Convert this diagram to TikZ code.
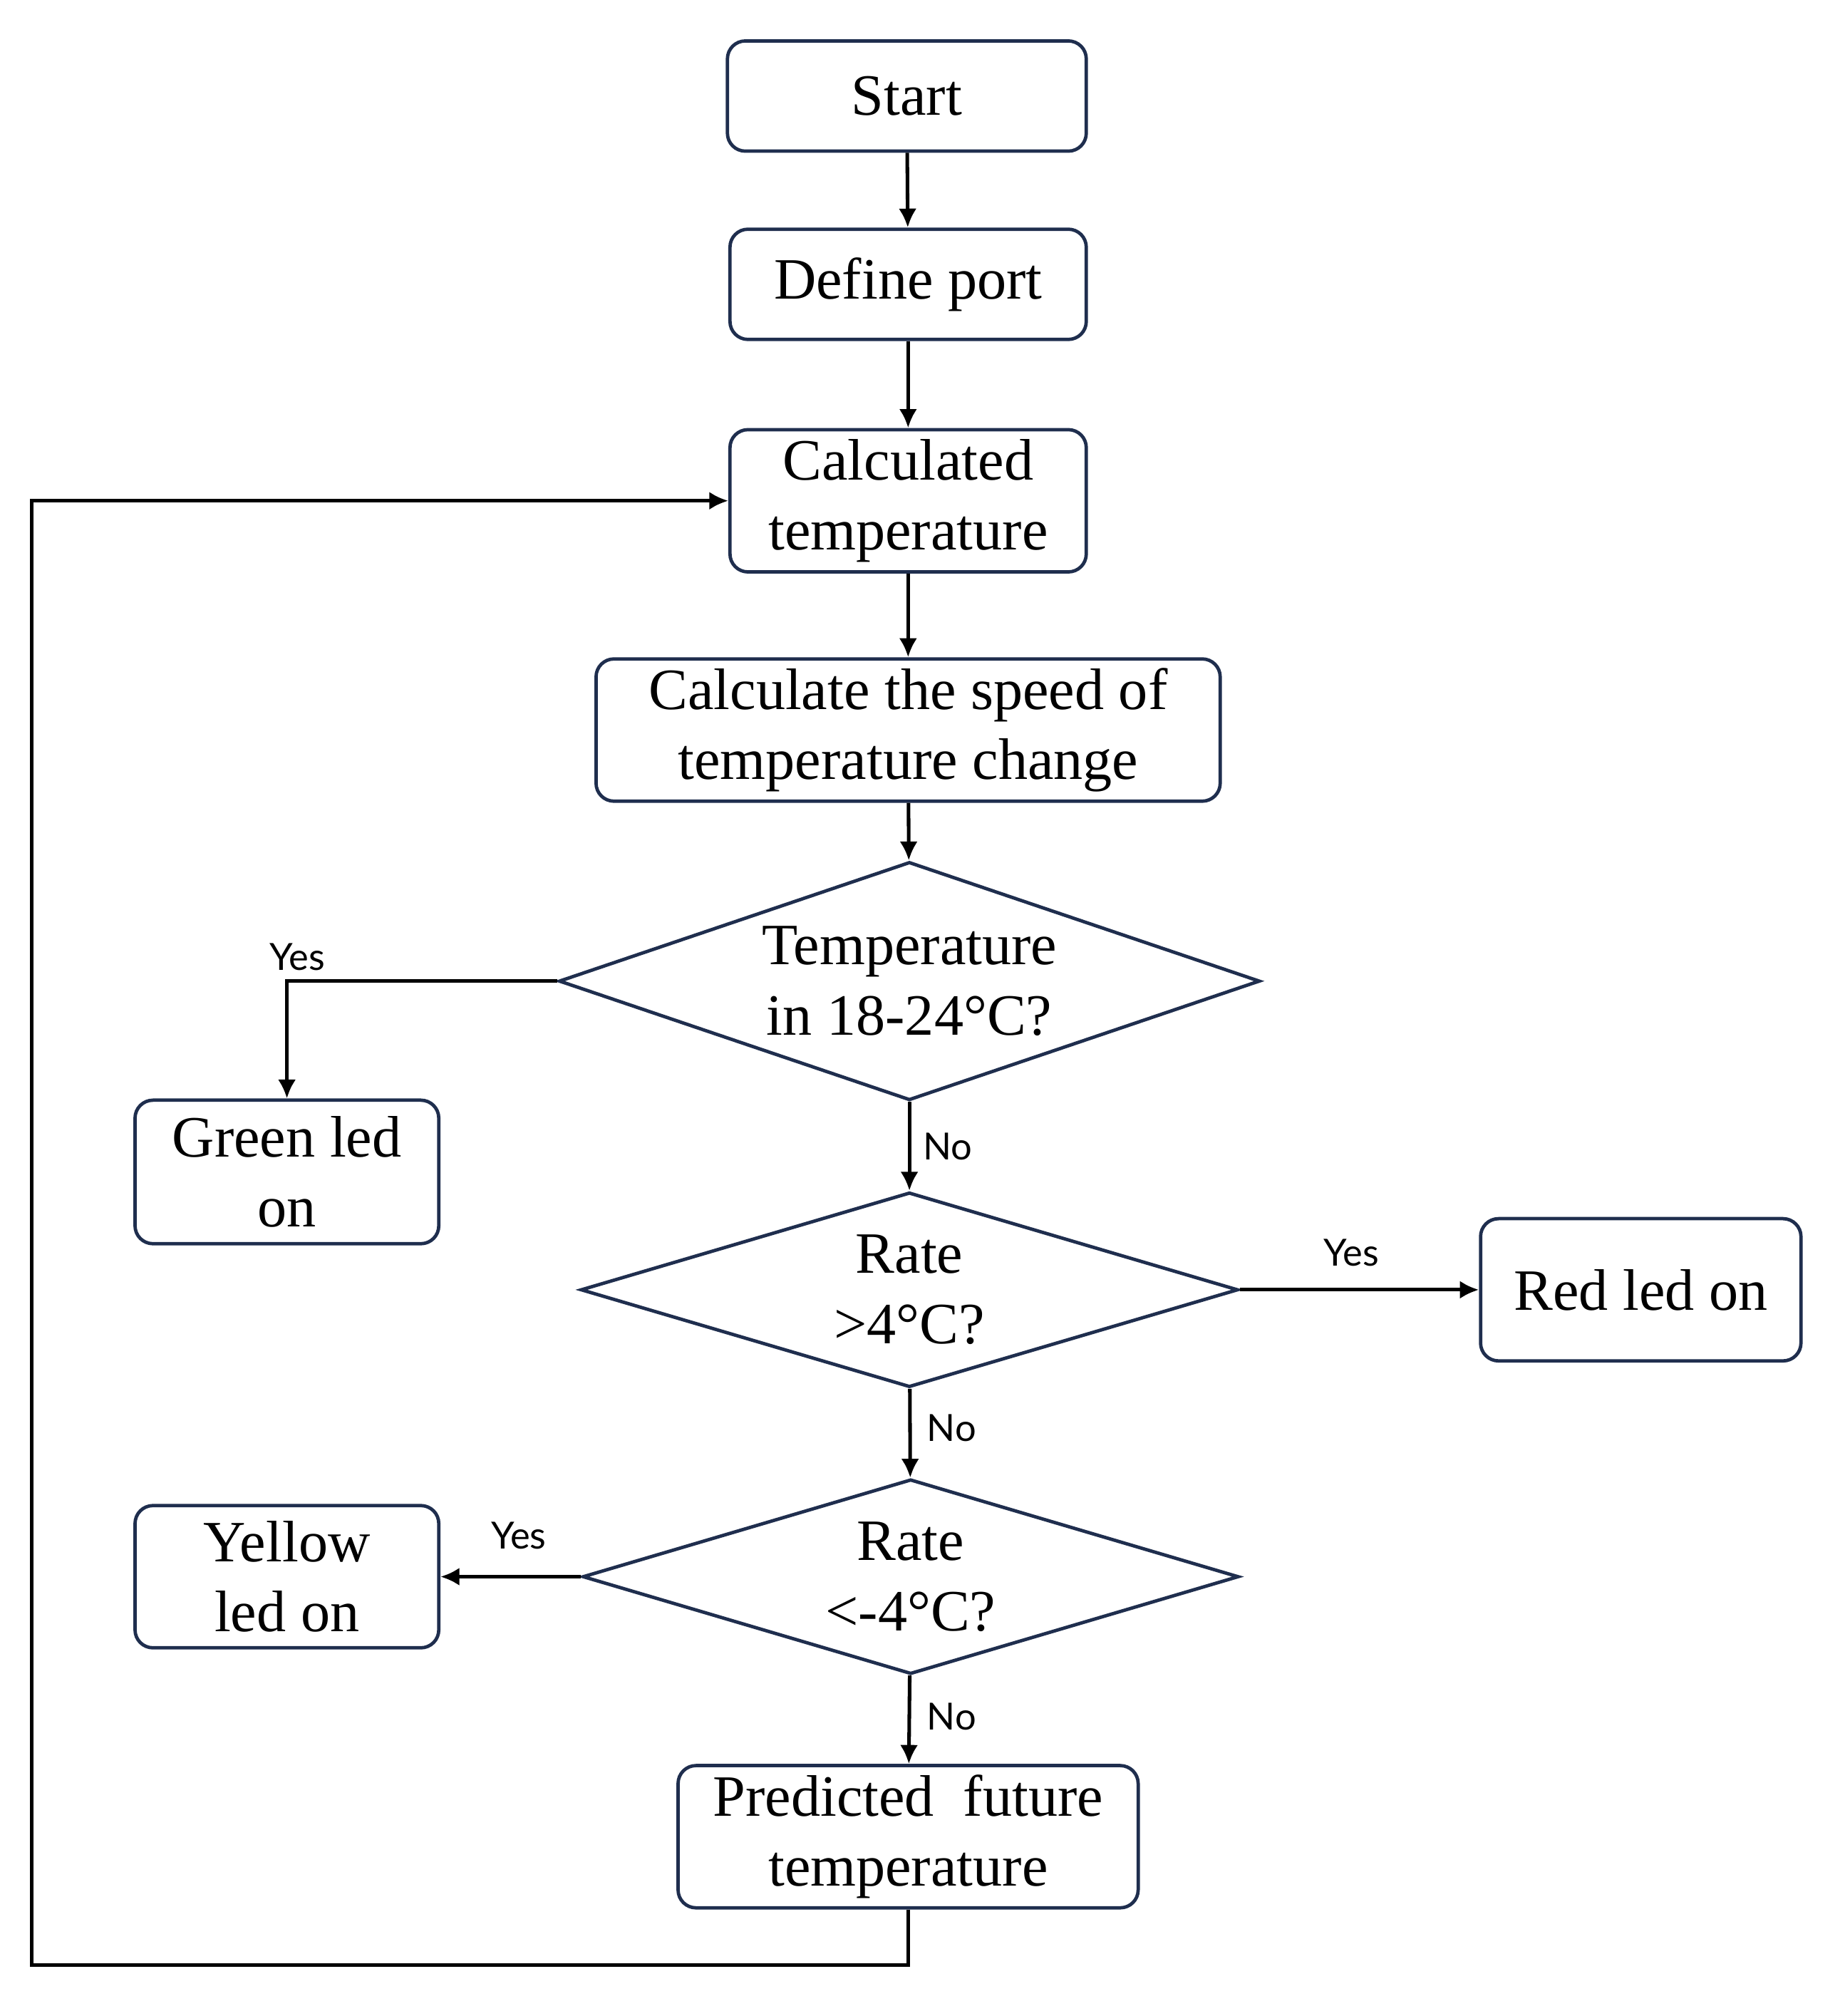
\documentclass[tikz,border=0pt]{standalone}
\usepackage{fontspec}
\setmainfont{Liberation Serif}
\newfontfamily\labelfont{Lato}
\usetikzlibrary{shapes.geometric,arrows.meta}
\definecolor{boxline}{RGB}{31,46,78}

\tikzset{
  stepbox/.style={rectangle,rounded corners=0.14cm,draw=boxline,line width=0.75pt,
    align=center,inner sep=0pt,font=\fontsize{13}{15.6}\selectfont},
  decide/.style={diamond,draw=boxline,line width=0.75pt,align=center,inner sep=0pt,
    font=\fontsize{13}{15.6}\selectfont},
  flow/.style={-{Latex[length=4.2pt,width=4pt]},line width=0.8pt},
  answer/.style={font=\labelfont\fontsize{8.3}{10}\selectfont,inner sep=0pt}
}

\begin{document}
\begin{tikzpicture}[x=0.01cm,y=-0.01cm]

%FRAME
\useasboundingbox (0,0) rectangle (1440,1574);
%FRAME

\node[stepbox,minimum width=2.80cm,minimum height=0.86cm](start) at (708,75) {Start};
\node[stepbox,minimum width=2.78cm,minimum height=0.86cm](port) at (709,222) {Define port};
\node[stepbox,minimum width=2.78cm,minimum height=1.11cm](calc) at (709,391) {Calculated\\temperature};
\node[stepbox,minimum width=4.87cm,minimum height=1.11cm](speed) at (709,570) {Calculate the speed of\\temperature change};

\node[decide,aspect=2.9,minimum width=5.47cm,minimum height=1.86cm](range) at (710,766) {Temperature\\in 18-24°C?};
\node[decide,aspect=3.37,minimum width=5.13cm,minimum height=1.52cm](fast) at (710,1007) {Rate\\>4°C?};
\node[decide,aspect=3.37,minimum width=5.12cm,minimum height=1.52cm](slow) at (711,1231) {Rate\\<-4°C?};

\node[stepbox,minimum width=2.37cm,minimum height=1.12cm](green) at (224,915) {Green led\\on};
\node[stepbox,minimum width=2.50cm,minimum height=1.11cm](red) at (1281,1007) {Red led on};
\node[stepbox,minimum width=2.37cm,minimum height=1.11cm](yellow) at (224,1231) {Yellow\\led on};
\node[stepbox,minimum width=3.59cm,minimum height=1.11cm](pred) at (709,1434) {Predicted~ future\\temperature};

\coordinate(c1) at (224,766);
\coordinate(c2) at (709,1534);
\coordinate(c3) at (25,1534);
\coordinate(c4) at (25,391);

\draw[flow] (start) -- (port);
\draw[flow] (port) -- (calc);
\draw[flow] (calc) -- (speed);
\draw[flow] (speed) -- (range);

\draw[flow] (range.west) -- (c1) -- (green);
\draw[flow] (range) -- (fast);
\draw[flow] (fast) -- (red);
\draw[flow] (fast) -- (slow);
\draw[flow] (slow) -- (yellow);
\draw[flow] (slow) -- (pred);

\draw[flow] (pred) -- (c2) -- (c3) -- (c4) -- (calc);

\node[answer](yes1) at (232,747) {Yes};
\node[answer](no1) at (740,895) {No};
\node[answer](yes2) at (1055,978) {Yes};
\node[answer](no2) at (743,1115) {No};
\node[answer](yes3) at (405,1199) {Yes};
\node[answer](no3) at (743,1340) {No};

\end{tikzpicture}
\end{document}
